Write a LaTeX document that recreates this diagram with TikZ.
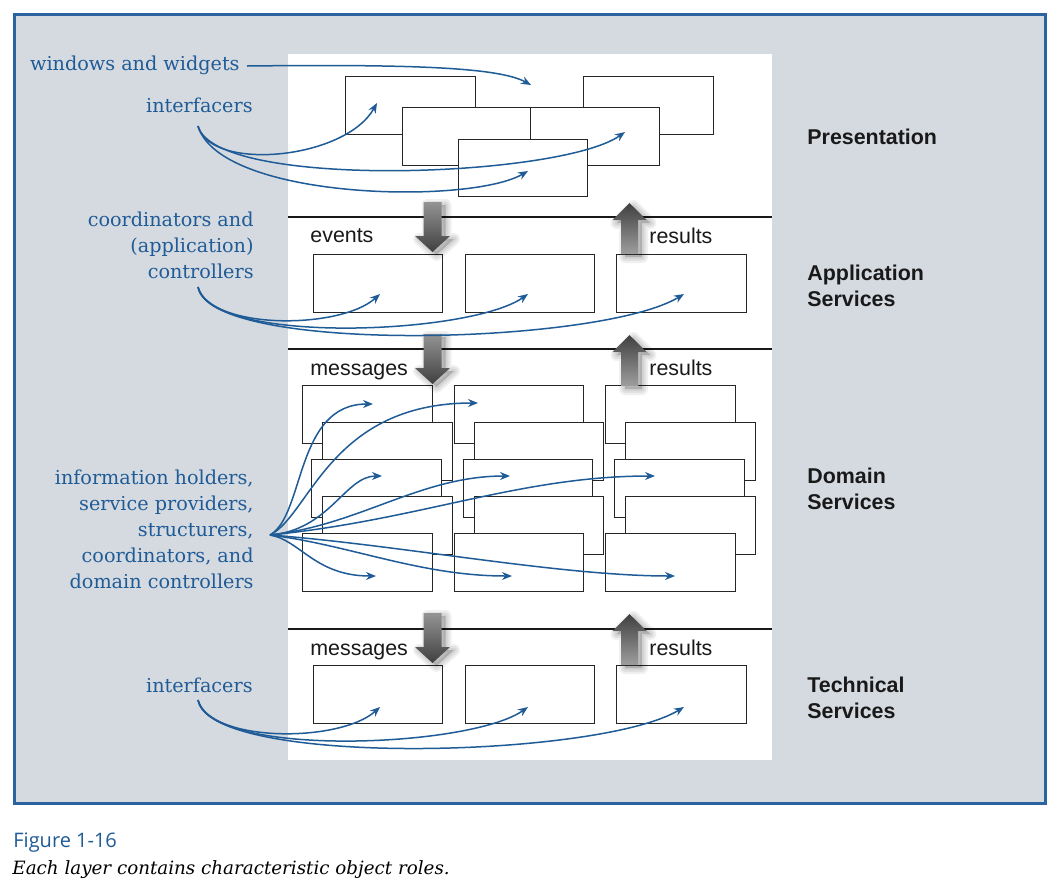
\documentclass[tikz,border=0pt]{standalone}
\usepackage{fontspec}
\setmainfont{DejaVu Serif}
\newfontfamily\layerfont{Liberation Sans}
\newfontfamily\figfont{Open Sans}
\usepackage{xcolor}
\usepackage{tikz}
\usetikzlibrary{arrows.meta,calc}
\definecolor{RoleBlue}{HTML}{1F5B96}
\definecolor{FrameBlue}{HTML}{2B63A1}
\definecolor{PanelGray}{HTML}{D5DAE0}

\newcommand{\downpath}{(-9,0) -- (9,0) -- (9,34) -- (17.5,34) -- (0,50) -- (-17.5,34) -- (-9,34) -- cycle}
\newcommand{\uppath}{(0,0) -- (17,17) -- (8.5,17) -- (8.5,51) -- (-8.5,51) -- (-8.5,17) -- (-17,17) -- cycle}

\tikzset{
  objbox/.style={draw=black!85,line width=0.65pt,fill=white,minimum width=64.75pt,minimum height=28.75pt,inner sep=0pt},
  role/.style={text=RoleBlue,font=\fontsize{9.6}{13}\selectfont,inner sep=0pt,align=right},
  layer/.style={font=\layerfont\bfseries\fontsize{10.7}{13}\selectfont,inner sep=0pt,align=left,text=black!90},
  flow/.style={font=\layerfont\fontsize{10.7}{13}\selectfont,inner sep=0pt,text=black!90},
  rolearrow/.style={RoleBlue,line width=0.75pt,-{Stealth[length=5pt,width=4pt]}},
  layerline/.style={line width=1pt,black!90},
  blockshadow/.style={draw=black,fill=black,opacity=.06,line join=round},
  downblock/.pic={
    \foreach \w in {6,4,2} \path[blockshadow,line width=\w pt,shift={(4,3)}] \downpath;
    \shade[top color=black!42,bottom color=black!75] \downpath;
  },
  upblock/.pic={
    \foreach \w in {6,4,2} \path[blockshadow,line width=\w pt,shift={(4,3)}] \uppath;
    \shade[top color=black!75,bottom color=black!38] \uppath;
  }
}

\begin{document}
\begin{tikzpicture}[x=0.5pt,y=-0.5pt]
\useasboundingbox (0,0) rectangle (1061,890);
\draw[FrameBlue,line width=1.5pt,fill=PanelGray] (14,14) rectangle (1045,803);
\fill[white] (288,54) rectangle (772,760);
% layer boundaries
\foreach \y in {217,349,629} \draw[layerline] (288,\y) -- (772,\y);

% presentation objects
\node[objbox] (pw1) at (410.5,105.5) {};
\node[objbox] (pw2) at (648.5,105.5) {};
\node[objbox] (pw3) at (467.5,136.5) {};
\node[objbox] (pw4) at (595,136.5) {};
\node[objbox] (pw5) at (523,168) {};

% application and technical objects
\foreach \c/\x in {1/378,2/530,3/681.5}{
  \node[objbox] (as\c) at (\x,283.5) {};
  \node[objbox] (ts\c) at (\x,694.5) {};
}
% domain objects, back row first
\foreach \r/\y/\dx in {1/414.5/0,2/451.5/20,3/488.5/9,4/525.5/20,5/562.5/0}{
  \foreach \c/\x in {1/367.5,2/519,3/670.5}
    \node[objbox] (ds\r\c) at (\x+\dx,\y) {};
}

% requests down, results up
\foreach \y in {202,334,613} \pic at (432.5,\y) {downblock};
\foreach \y in {203,335,614} \pic at (629.5,\y) {upblock};

\node[flow,anchor=west] (ev) at (310,236) {events};
\node[flow,anchor=west] (msg1) at (310,372) {messages};
\node[flow,anchor=west] (msg2) at (310,652) {messages};
\node[flow,anchor=west] (res1) at (649,236) {results};
\node[flow,anchor=west] (res2) at (649,368) {results};
\node[flow,anchor=west] (res3) at (649,648) {results};

% layer names
\node[layer,anchor=west] (lp) at (807,137) {Presentation};
\node[layer,anchor=west] (la) at (807,286) {Application\\Services};
\node[layer,anchor=west] (ld) at (807,489) {Domain\\Services};
\node[layer,anchor=west] (lt) at (807,698) {Technical\\Services};

% object roles
\node[role,anchor=east] (ww) at (240,65) {windows and widgets};
\node[role,anchor=east] (pif) at (253,105) {interfacers};
\node[role,anchor=east] (coord) at (254,245) {coordinators and\\(application)\hspace*{3pt}\\controllers};
\node[role,anchor=east] (dom) at (254,529) {information holders,\\service providers,\\structurers,\\coordinators, and\\domain controllers};
\node[role,anchor=east] (tif) at (253,685) {interfacers};

\node[anchor=west,inner sep=0pt,text=RoleBlue,font=\figfont\fontsize{10}{12}\selectfont] (fignum) at (13,843) {Figure 1-16};
\node[anchor=west,inner sep=0pt,font=\itshape\fontsize{9.15}{12}\selectfont] (figcap) at (12,870) {Each layer contains characteristic object roles.};

% arrow ends
\coordinate (wws) at (247,66);
\coordinate (pifs) at (198,126);
\coordinate (coords) at (198,287);
\coordinate (doms) at (270,535);
\coordinate (tifs) at (198,700);

\draw[rolearrow] (wws) .. controls (420,64) and (500,68) .. (531,85);
\draw[rolearrow] (pifs) .. controls (210,172) and (345,160) .. (377,103);
\draw[rolearrow] (pifs) .. controls (215,190) and (560,178) .. (625,132);
\draw[rolearrow] (pifs) .. controls (220,200) and (470,205) .. (528,171);

\draw[rolearrow] (coords) .. controls (210,330) and (340,330) .. (380,294);
\draw[rolearrow] (coords) .. controls (210,345) and (470,335) .. (528,294);
\draw[rolearrow] (coords) .. controls (210,355) and (600,345) .. (684,294);

\draw[rolearrow] (doms) .. controls (305,515) and (295,404) .. (373,404);
\draw[rolearrow] (doms) .. controls (310,515) and (330,403) .. (478,403);
\draw[rolearrow] (doms) .. controls (330,530) and (345,476) .. (382,476);
\draw[rolearrow] (doms) .. controls (360,525) and (420,476) .. (510,476);
\draw[rolearrow] (doms) .. controls (420,520) and (520,476) .. (655,476);
\draw[rolearrow] (doms) .. controls (300,540) and (315,576) .. (376,576);
\draw[rolearrow] (doms) .. controls (350,545) and (420,576) .. (512,576);
\draw[rolearrow] (doms) .. controls (400,545) and (560,576) .. (675,576);

\draw[rolearrow] (tifs) .. controls (210,743) and (340,743) .. (380,707);
\draw[rolearrow] (tifs) .. controls (210,758) and (470,748) .. (528,707);
\draw[rolearrow] (tifs) .. controls (210,768) and (600,758) .. (684,707);
\end{tikzpicture}
\end{document}
